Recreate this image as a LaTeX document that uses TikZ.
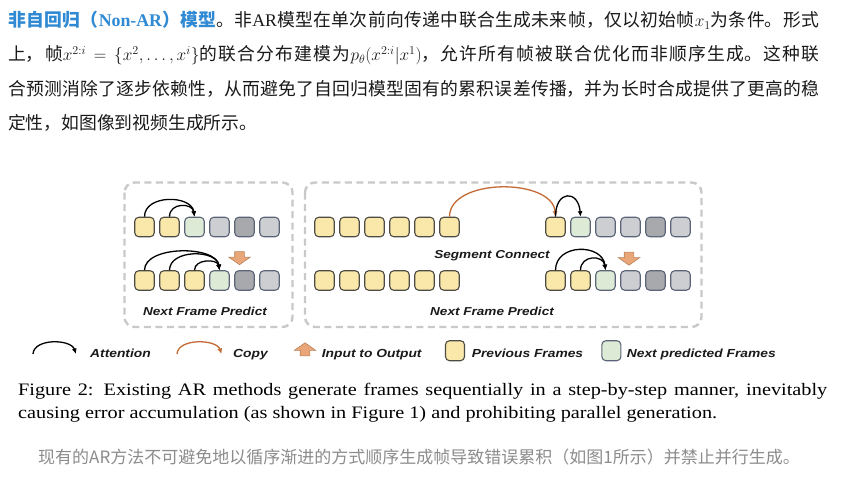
\documentclass[tikz,border=0pt]{standalone}
\usepackage{fontspec}
\setmainfont{Liberation Serif}
\newfontfamily\zhfont{Noto Sans CJK SC}
\newfontfamily\figfont{Liberation Sans}[FakeStretch=1.18]
\newfontfamily\capfont{Liberation Serif}[FakeStretch=1.158]
\XeTeXlinebreaklocale "zh"
\XeTeXlinebreakskip=0pt plus 2pt
\usetikzlibrary{shapes.arrows,arrows.meta,positioning}
\definecolor{ink}{HTML}{1A1A1A}
\definecolor{hblue}{HTML}{2F8AD3}
\definecolor{capgray}{HTML}{8C8C8C}
\definecolor{dashgray}{HTML}{C9C9C9}
\definecolor{prevfill}{HTML}{F9E8AA}
\definecolor{prevline}{HTML}{4E4B44}
\definecolor{nextfill}{HTML}{DDEBD6}
\definecolor{restfill}{HTML}{CDCED2}
\definecolor{darkfill}{HTML}{A8A9AD}
\definecolor{frameline}{HTML}{5C6578}
\definecolor{copyline}{HTML}{C46A34}
\definecolor{cuefill}{HTML}{E9A679}
\definecolor{cueline}{HTML}{B9825C}
\newcommand{\lat}[1]{{\rmfamily #1}}
% one justified line of a given width
\newcommand{\fullline}[2]{\vbox{\hsize=#1\parfillskip=0pt\noindent #2\par}}
\tikzset{
  framebox/.style={rectangle,rounded corners=4pt,minimum width=19.5pt,minimum height=19.5pt,
                   inner sep=0pt,line width=1.1pt,draw=frameline},
  prevbox/.style={framebox,fill=prevfill,draw=prevline},
  nextbox/.style={framebox,fill=nextfill},
  restbox/.style={framebox,fill=restfill},
  darkbox/.style={framebox,fill=darkfill},
  panel/.style={draw=dashgray,line width=2.4pt,dash pattern=on 7pt off 4.5pt,rounded corners=10pt},
  attn/.style={-{Latex[length=5.5pt,width=5pt]},line width=1.3pt,draw=black},
  copyarc/.style={attn,draw=copyline},
  cue/.style={single arrow,draw=cueline,fill=cuefill,line width=0.6pt,inner sep=4.5pt,
              minimum height=13pt,single arrow head extend=6pt,single arrow tip angle=110},
  figlabel/.style={font=\figfont\bfseries\itshape\fontsize{11.5}{13}\selectfont,text=ink,
                   inner sep=0pt,anchor=base},
  legtext/.style={figlabel,anchor=base west,font=\figfont\bfseries\itshape\fontsize{11.7}{13}\selectfont},
  intro/.style={anchor=base west,inner sep=0pt,text=ink,font=\zhfont\fontsize{17.8}{34}\selectfont},
  capen/.style={anchor=base west,inner sep=0pt,text=black,font=\capfont\fontsize{17.5}{22}\selectfont},
  capzh/.style={anchor=base west,inner sep=0pt,text=capgray,font=\zhfont\fontsize{17}{20}\selectfont},
}
\begin{document}
\begin{tikzpicture}[x=1pt,y=-1pt]
\useasboundingbox[fill=white] (0,0) rectangle (854,485);
% paragraph above the figure
\node[intro] (intro1) at (8,26.5) {\fullline{811pt}{{\bfseries\color{hblue}非自回归（\lat{Non-AR}）模型}。非\lat{AR}模型在单次前向传递中联合生成未来帧，仅以初始帧$x_1$为条件。形式}};
\node[intro] (intro2) at (8,60.8) {\fullline{811pt}{上，帧$x^{2:i}=\{x^2,\ldots,x^i\}$的联合分布建模为$p_\theta(x^{2:i}|x^1)$，允许所有帧被联合优化而非顺序生成。这种联}};
\node[intro] (intro3) at (8,95.1) {\fullline{811pt}{合预测消除了逐步依赖性，从而避免了自回归模型固有的累积误差传播，并为长时合成提供了更高的稳}};
\node[intro] (intro4) at (8,129.4) {定性，如图像到视频生成所示。};

% dashed panels
\draw[panel] (124.5,182.5) rectangle (292.5,327);
\draw[panel] (305,182.5) rectangle (701.5,327);

% frames, left panel
\foreach \k/\s in {1/prevbox,2/prevbox,3/nextbox,4/restbox,5/darkbox,6/restbox}
  \node[\s] (a\k) at ({119.5+25*\k},227) {};
\foreach \k/\s in {1/prevbox,2/prevbox,3/prevbox,4/nextbox,5/darkbox,6/restbox}
  \node[\s] (b\k) at ({119.5+25*\k},280.5) {};
% frames, right panel
\foreach \k in {1,...,6} {
  \node[prevbox] (c\k) at ({299.5+25*\k},227) {};
  \node[prevbox] (d\k) at ({299.5+25*\k},280.5) {};
}
\foreach \k/\s in {7/prevbox,8/nextbox,9/restbox,10/restbox,11/darkbox,12/restbox}
  \node[\s] (c\k) at ({380.5+25*\k},227) {};
\foreach \k/\s in {7/prevbox,8/prevbox,9/nextbox,10/restbox,11/darkbox,12/restbox}
  \node[\s] (d\k) at ({380.5+25*\k},280.5) {};

% attention and copy arcs
\draw[attn] (a1.north) .. controls +(0,-22.5) and +(-3,-22) .. (a3.north);
\draw[attn] (a2.north) .. controls +(0,-14.5) and +(-2,-14) .. (a3.north);
\draw[attn] (b1.north) .. controls +(0,-25) and +(-3,-25) .. (b4.north);
\draw[attn] (b2.north) .. controls +(0,-21) and +(-3,-21) .. (b4.north);
\draw[attn] (b3.north) .. controls +(0,-11.5) and +(-2,-11.5) .. (b4.north);
\draw[copyarc] (c6.north) .. controls +(0,-39) and +(-3,-39) .. (c7.north);
\draw[attn] (c7.north) .. controls +(0,-27) and +(-2,-27) .. (c8.north);
\draw[attn] (d7.north) .. controls +(0,-27) and +(-3,-27) .. (d9.north);
\draw[attn] (d8.north) .. controls +(0,-15.5) and +(-2,-15.5) .. (d9.north);

% input-to-output cues
\node[cue,shape border rotate=270] (cue1) at (239.5,256.5) {};
\node[cue,shape border rotate=270] (cue2) at (629,257) {};

% panel labels
\node[figlabel] (nfp1) at (205,315.5) {Next Frame Predict};
\node[figlabel] (segc) at (492,258) {Segment Connect};
\node[figlabel] (nfp2) at (492,315.5) {Next Frame Predict};

% legend
\coordinate (attL) at (33,354);
\coordinate (attR) at (76,354);
\draw[attn] (attL) .. controls +(1,-16) and +(-5,-15) .. (attR);
\node[legtext] (legatt) at (90,357) {Attention};
\coordinate (cpyL) at (177,354);
\coordinate (cpyR) at (221.5,354);
\draw[copyarc] (cpyL) .. controls +(1,-16) and +(-5,-15) .. (cpyR);
\node[legtext] (legcpy) at (233,357) {Copy};
\node[cue,shape border rotate=90] (legcue) at (305,351) {};
\node[legtext] (legio) at (321.7,357) {Input to Output};
\node[prevbox,minimum width=19pt,minimum height=20pt] (legprev) at (455,350.7) {};
\node[legtext] (legprevtxt) at (471.7,357) {Previous Frames};
\node[nextbox,minimum width=19pt,minimum height=20pt] (legnext) at (611.4,350.7) {};
\node[legtext] (legnexttxt) at (626.7,357) {Next predicted Frames};

% caption
\node[capen] (cap1) at (18,395.7) {\fullline{809pt}{Figure 2: Existing AR methods generate frames sequentially in a step-by-step manner, inevitably}};
\node[capen] (cap2) at (18,418.3) {causing error accumulation (as shown in Figure 1) and prohibiting parallel generation.};
\node[capzh] (capzh1) at (38,463) {现有的AR方法不可避免地以循序渐进的方式顺序生成帧导致错误累积（如图1所示）并禁止并行生成。};
\end{tikzpicture}
\end{document}
